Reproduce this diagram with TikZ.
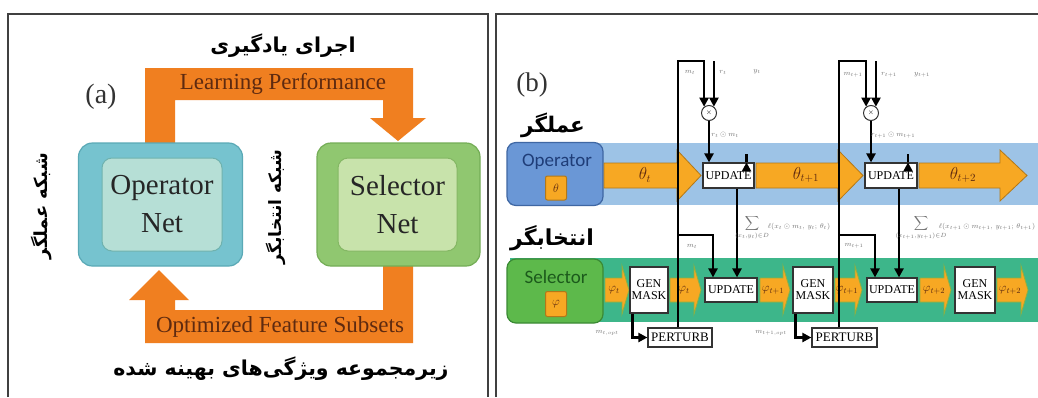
\documentclass[tikz,border=0pt]{standalone}
\usepackage{fontspec}
\setmainfont{Liberation Serif}
\newfontfamily\fa[Script=Arabic]{DejaVu Sans}
\newfontfamily\calib{Carlito}
\TeXXeTstate=1
\usetikzlibrary{arrows.meta,calc}
\definecolor{orA}{HTML}{F07F20}
\definecolor{txtbrown}{HTML}{5E2A10}
\definecolor{opOut}{HTML}{76C3CF}
\definecolor{opOutD}{HTML}{5AA9B6}
\definecolor{opIn}{HTML}{B6DFD6}
\definecolor{opInD}{HTML}{6FB2AE}
\definecolor{selOut}{HTML}{90C770}
\definecolor{selOutD}{HTML}{74AD56}
\definecolor{selIn}{HTML}{C8E3AB}
\definecolor{selInD}{HTML}{84B764}
\definecolor{bband}{HTML}{9DC3E6}
\definecolor{gband}{HTML}{3DB68A}
\definecolor{opbox}{HTML}{6A97D6}
\definecolor{opboxD}{HTML}{3F67A3}
\definecolor{opTxt}{HTML}{1F3D78}
\definecolor{selbox}{HTML}{5DB94B}
\definecolor{selboxD}{HTML}{3B8A34}
\definecolor{selTxt}{HTML}{1C5A1C}
\definecolor{orB}{HTML}{F7A823}
\definecolor{orD}{HTML}{B27818}
\definecolor{chev}{HTML}{8FB040}
\newcommand\oparr[3]{%
  \fill[orB, draw=orD, line width=0.8pt] (#1,163) -- (#2,163) -- (#2,150) -- (#3,175.5) -- (#2,201) -- (#2,188) -- (#1,188) -- cycle;}
\newcommand\selarr[2]{%
  \fill[orB, draw=chev, line width=0.8pt] (#1,278) -- (#2-7,278) -- (#2-7,266) -- (#2,290) -- (#2-7,314) -- (#2-7,302) -- (#1,302) -- cycle;}
\begin{document}
\begin{tikzpicture}[x=1pt,y=-1pt,
  frame/.style={draw=black!75, line width=1.6pt},
  netout/.style={rounded corners=14pt, line width=1.2pt, inner sep=0pt, minimum width=164pt, minimum height=123pt},
  netin/.style={rounded corners=10pt, line width=1pt, inner sep=0pt, minimum width=120pt, minimum height=93pt, align=center, font=\fontsize{29}{38}\selectfont, text=black!85},
  pa/.style={font=\fontsize{23}{23}\selectfont, text=txtbrown, inner sep=0pt},
  fatxt/.style={font=\fa\bfseries\fontsize{20.5}{20.5}\selectfont, inner sep=0pt},
  wbox/.style={draw=black!80, fill=white, line width=1.2pt, inner sep=0pt, font=\fontsize{12}{12}\selectfont, align=center},
  tl/.style={line width=2.6pt, black},
  tla/.style={tl, -{Triangle[length=9pt,width=9pt]}},
  lbl/.style={font=\fontsize{7}{7}\selectfont, text=black!55, inner sep=0pt},
  thl/.style={font=\fontsize{16}{16}\selectfont, text=txtbrown, inner sep=0pt},
  phl/.style={font=\fontsize{12}{12}\selectfont, text=txtbrown, inner sep=0pt}]
\useasboundingbox[fill=white] (0,0) rectangle (1038,397);

% ---------------- frames
\draw[frame] (8,397) -- (8,14) -- (488,14) -- (488,397);
\draw[frame] (496,397) -- (496,14) -- (1038,14);

% ---------------- panel (a)
\fill[orA] (145,143) -- (145,68) -- (413,68) -- (413,118) -- (426,118) -- (398,141) -- (370,118) -- (383,118) -- (383,100) -- (175,100) -- (175,143) -- cycle;
\fill[orA] (383,266) -- (413,266) -- (413,343) -- (145,343) -- (145,300) -- (129,300) -- (159,270) -- (189,300) -- (175,300) -- (175,310) -- (383,310) -- cycle;

\node[fatxt] (faTop) at (283,46) {\beginR اجرای یادگیری\endR};
\node[pa] (lp) at (283,84) {Learning Performance};
\node[font=\fontsize{28}{28}\selectfont, text=black!80, inner sep=0pt] (la) at (101,97) {(a)};

\node[netout, draw=opOutD, fill=opOut] (opO) at (160.5,204.5) {};
\node[netin, draw=opInD, fill=opIn] (opI) at (162,204.5) {Operator\\Net};
\node[netout, draw=selOutD, fill=selOut, minimum width=163pt] (seO) at (398.5,204.5) {};
\node[netin, draw=selInD, fill=selIn, minimum width=119pt] (seI) at (397.5,204.5) {Selector\\Net};

\node[fatxt, rotate=90, font=\fa\bfseries\fontsize{18}{18}\selectfont] (faOp) at (42,206) {\beginR شبکه عملگر\endR};
\node[fatxt, rotate=90, font=\fa\bfseries\fontsize{17}{17}\selectfont] (faSe) at (276,207) {\beginR شبکه انتخابگر\endR};

\node[pa] (ofs) at (280,327) {Optimized Feature Subsets};
\node[fatxt] (faBot) at (281,369) {\beginR زیرمجموعه ویژگی‌های بهینه شده\endR};

% ---------------- panel (b)
\node[font=\fontsize{27}{27}\selectfont, text=black!80, inner sep=0pt] (lb) at (532,85) {(b)};
\node[fatxt, font=\fa\bfseries\fontsize{21.5}{21.5}\selectfont] (faOp2) at (553,125) {\beginR عملگر\endR};
\node[fatxt, font=\fa\bfseries\fontsize{22}{22}\selectfont] (faSe2) at (552,238) {\beginR انتخابگر\endR};

\fill[bband] (510,143) rectangle (1038,205);
\fill[gband] (510,258) rectangle (1038,322);

\node[draw=opboxD, fill=opbox, rounded corners=9pt, line width=1.2pt, minimum width=96pt, minimum height=63pt, inner sep=0pt] (opB) at (555,174) {};
\node[font=\calib\fontsize{19}{19}\selectfont, text=opTxt, inner sep=0pt] (opBt) at (557,162) {Operator};
\node[fill=orB, draw=orD, line width=1pt, rounded corners=2pt, minimum width=21pt, minimum height=24pt, inner sep=0pt, font=\fontsize{13}{13}\selectfont, text=txtbrown] (thB) at (556,188) {$\theta$};

\node[draw=selboxD, fill=selbox, rounded corners=9pt, line width=1.2pt, minimum width=96pt, minimum height=64pt, inner sep=0pt] (seB) at (555,291) {};
\node[font=\calib\fontsize{19}{19}\selectfont, text=selTxt, inner sep=0pt] (seBt) at (556,277) {Selector};
\node[fill=orB, draw=orD, line width=1pt, rounded corners=2pt, minimum width=21pt, minimum height=25pt, inner sep=0pt, font=\fontsize{13}{13}\selectfont, text=txtbrown] (phB) at (556,304) {$\varphi$};

% operator chain
\oparr{604}{677}{701}
\node[thl] (th1) at (645,175) {$\theta_t$};
\oparr{756}{838}{863}
\node[thl] (th2) at (806,175) {$\theta_{t+1}$};
\oparr{919}{1000}{1027}
\node[thl] (th3) at (963,175) {$\theta_{t+2}$};
\node[wbox, minimum width=51pt, minimum height=25pt] (u1) at (728.5,175.5) {UPDATE};
\node[wbox, minimum width=52pt, minimum height=25pt] (u2) at (891,175.5) {UPDATE};

% selector chain
\selarr{605}{629}
\node[phl] (p1) at (614,290) {$\varphi_t$};
\node[wbox, minimum width=38pt, minimum height=46pt] (g1) at (649,290) {GEN\\MASK};
\selarr{670}{701}
\node[phl] (p2) at (684,290) {$\varphi_t$};
\node[wbox, minimum width=52pt, minimum height=24pt] (s1) at (731,290) {UPDATE};
\selarr{760}{790}
\node[phl] (p3) at (773,290) {$\varphi_{t+1}$};
\node[wbox, minimum width=40pt, minimum height=46pt] (g2) at (813,290) {GEN\\MASK};
\selarr{835}{862}
\node[phl] (p4) at (847,290) {$\varphi_{t+1}$};
\node[wbox, minimum width=50pt, minimum height=24pt] (s2) at (892,290) {UPDATE};
\selarr{920}{951}
\node[phl] (p5) at (934,290) {$\varphi_{t+2}$};
\node[wbox, minimum width=40pt, minimum height=46pt] (g3) at (975,290) {GEN\\MASK};
\selarr{997}{1028}
\node[phl] (p6) at (1010,290) {$\varphi_{t+2}$};

\node[wbox, minimum width=64pt, minimum height=19pt, font=\fontsize{13}{13}\selectfont] (pt1) at (680,337.5) {PERTURB};
\node[wbox, minimum width=65pt, minimum height=19pt, font=\fontsize{13}{13}\selectfont] (pt2) at (844.5,337.5) {PERTURB};

% multiply circles
\node[draw=black!80, fill=white, circle, line width=1pt, minimum size=15pt, inner sep=0pt, font=\fontsize{7}{7}\selectfont] (x1) at (709,113) {$\times$};
\node[draw=black!80, fill=white, circle, line width=1pt, minimum size=15pt, inner sep=0pt, font=\fontsize{7}{7}\selectfont] (x2) at (871,113) {$\times$};

% coordinates
\coordinate (f1t) at (678,61);
\coordinate (f1b) at (678,235);
\coordinate (f2t) at (839,61);
\coordinate (f2b) at (839,235);

% connectors, step t
\draw[tla] (pt1.north -| f1t) -- (f1t) -| (x1.128);
\draw[tla] (x1.52 |- f1t) -- (x1.52);
\draw[tla] (x1.south) -- (x1.south |- u1.north);
\draw[tla] ($(u1.north)+(18,0)$ |- f1t) -- ($(u1.north)+(18,0)$);
\draw[tla] ($(u1.south)+(8.5,0)$) -- ($(s1.north)+(6,0)$);
\draw[tla] (f1b) -| ($(s1.north)+(-18,0)$);
\draw[tla] ($(g1.south west)+(3,0)$) |- (pt1.west);

% connectors, step t+1
\draw[tla] (pt2.north -| f2t) -- (f2t) -| (x2.128);
\draw[tla] (x2.52 |- f2t) -- (x2.52);
\draw[tla] (x2.south) -- (x2.south |- u2.north);
\draw[tla] ($(u2.north)+(17,0)$ |- f2t) -- ($(u2.north)+(17,0)$);
\draw[tla] ($(u2.south)+(8,0)$) -- ($(s2.north)+(7,0)$);
\draw[tla] (f2b) -| ($(s2.north)+(-17,0)$);
\draw[tla] ($(g2.south west)+(3,0)$) |- (pt2.west);

% small labels
\node[lbl] (lm1) at (690,72) {$m_t$};
\node[lbl] (lr1) at (723,72) {$r_t$};
\node[lbl] (ly1) at (757,72) {$y_t$};
\node[lbl] (lrm1) at (725,135) {$r_t\odot m_t$};
\node[lbl] (lmb1) at (692,246) {$m_t$};
\node[lbl, font=\fontsize{8}{8}\selectfont] (ls1) at (752,228) {$\displaystyle\sum_{(x_t,y_t)\in D}$};
\node[lbl] (ll1) at (799,227) {$\ell(x_t\odot m_t,\,y_t;\,\theta_t)$};
\node[lbl] (lo1) at (607,333) {$m_{t,opt}$};

\node[lbl] (lm2) at (853,75) {$m_{t+1}$};
\node[lbl] (lr2) at (889,75) {$r_{t+1}$};
\node[lbl] (ly2) at (922,75) {$y_{t+1}$};
\node[lbl] (lrm2) at (893,135) {$r_{t+1}\odot m_{t+1}$};
\node[lbl] (lmb2) at (854,246) {$m_{t+1}$};
\node[lbl, font=\fontsize{8}{8}\selectfont] (ls2) at (921,228) {$\displaystyle\sum_{(x_{t+1},y_{t+1})\in D}$};
\node[lbl] (ll2) at (987,227) {$\ell(x_{t+1}\odot m_{t+1},\,y_{t+1};\,\theta_{t+1})$};
\node[lbl] (lo2) at (771,333) {$m_{t+1,opt}$};
\end{tikzpicture}
\end{document}
